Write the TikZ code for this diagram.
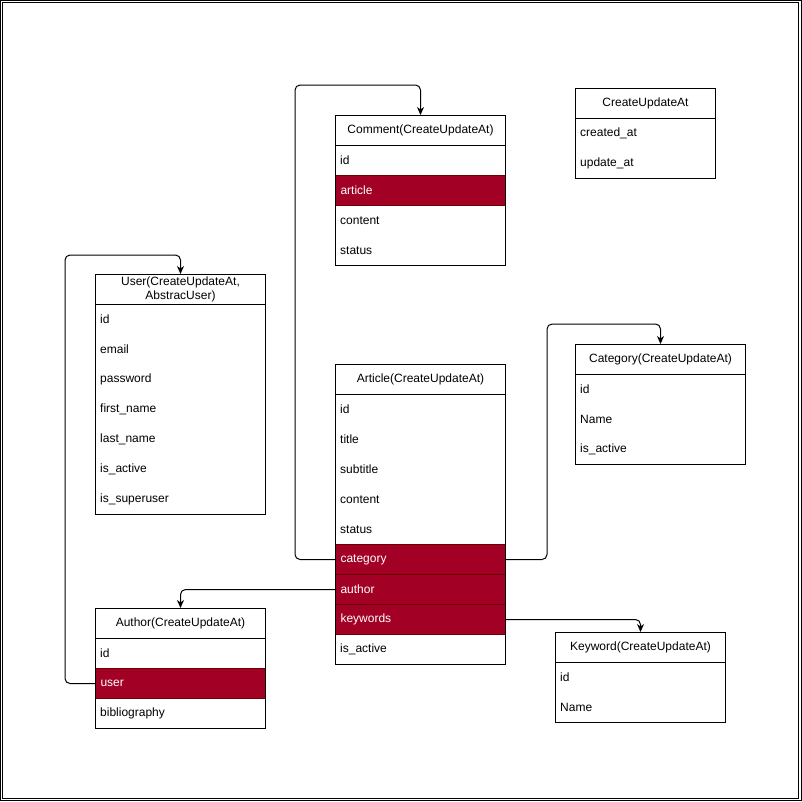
\documentclass[tikz,border=0pt]{standalone}
\usepackage{fontspec}
\setmainfont{Liberation Sans}
\usetikzlibrary{arrows.meta}
\definecolor{fkfill}{HTML}{A20025}
\definecolor{fkline}{HTML}{6F0000}
\begin{document}
\begin{tikzpicture}[x=1pt,y=-1pt,
  every node/.style={font=\fontsize{12}{14}\selectfont},
  hdr/.style={draw, line width=1pt, anchor=north west, minimum height=30pt, inner sep=0pt, text width=#1, align=center},
  fld/.style={anchor=north west, minimum height=30pt, inner xsep=5pt, inner ysep=0pt, text width=#1, align=left},
  fk/.style={fill=fkfill, draw=fkline, line width=1pt, text=white},
  link/.style={draw, line width=1pt, rounded corners=5pt, -{Stealth[length=8pt,width=7pt,inset=2.5pt]}},
  frame/.style={draw, line width=1pt}
]
\useasboundingbox (0,0) rectangle (802,801);
% outer double border
\draw[line width=1pt] (0.5,0.5) rectangle (801,800.5);
\draw[line width=1pt] (2.5,2.5) rectangle (798.5,798.5);

% Comment
\node[hdr=170pt] (com-hdr) at (335,115) {Comment(CreateUpdateAt)};
\node[fld=160pt] (com-id) at (335,145) {id};
\node[fld=160pt, fk] (com-art) at (335,175) {article};
\node[fld=160pt] (com-content) at (335,205) {content};
\node[fld=160pt] (com-status) at (335,235) {status};
\draw[frame] (com-hdr.north west) rectangle (com-status.south east);

% CreateUpdateAt
\node[hdr=140pt] (cua-hdr) at (575,88) {CreateUpdateAt};
\node[fld=130pt] (cua-created) at (575,118) {created\_at};
\node[fld=130pt] (cua-update) at (575,148) {update\_at};
\draw[frame] (cua-hdr.north west) rectangle (cua-update.south east);

% User
\node[hdr=170pt] (usr-hdr) at (95,274) {User(CreateUpdateAt,\\AbstracUser)};
\node[fld=160pt] (usr-id) at (95,304) {id};
\node[fld=160pt] (usr-email) at (95,334) {email};
\node[fld=160pt] (usr-pass) at (95,364) {password};
\node[fld=160pt] (usr-first) at (95,394) {first\_name};
\node[fld=160pt] (usr-last) at (95,424) {last\_name};
\node[fld=160pt] (usr-active) at (95,454) {is\_active};
\node[fld=160pt] (usr-super) at (95,484) {is\_superuser};
\draw[frame] (usr-hdr.north west) rectangle (usr-super.south east);

% Article
\node[hdr=170pt] (art-hdr) at (335,364) {Article(CreateUpdateAt)};
\node[fld=160pt] (art-id) at (335,394) {id};
\node[fld=160pt] (art-title) at (335,424) {title};
\node[fld=160pt] (art-sub) at (335,454) {subtitle};
\node[fld=160pt] (art-content) at (335,484) {content};
\node[fld=160pt] (art-status) at (335,514) {status};
\node[fld=160pt, fk] (art-cat) at (335,544) {category};
\node[fld=160pt, fk] (art-auth) at (335,574) {author};
\node[fld=160pt, fk] (art-kw) at (335,604) {keywords};
\node[fld=160pt] (art-active) at (335,634) {is\_active};
\draw[frame] (art-hdr.north west) rectangle (art-active.south east);

% Category
\node[hdr=170pt] (cat-hdr) at (575,344) {Category(CreateUpdateAt)};
\node[fld=160pt] (cat-id) at (575,374) {id};
\node[fld=160pt] (cat-name) at (575,404) {Name};
\node[fld=160pt] (cat-active) at (575,434) {is\_active};
\draw[frame] (cat-hdr.north west) rectangle (cat-active.south east);

% Author
\node[hdr=170pt] (aut-hdr) at (95,608) {Author(CreateUpdateAt)};
\node[fld=160pt] (aut-id) at (95,638) {id};
\node[fld=160pt, fk] (aut-user) at (95,668) {user};
\node[fld=160pt] (aut-bio) at (95,698) {bibliography};
\draw[frame] (aut-hdr.north west) rectangle (aut-bio.south east);

% Keyword
\node[hdr=170pt] (kw-hdr) at (555,632) {Keyword(CreateUpdateAt)};
\node[fld=160pt] (kw-id) at (555,662) {id};
\node[fld=160pt] (kw-name) at (555,692) {Name};
\draw[frame] (kw-hdr.north west) rectangle (kw-name.south east);

% relations
\draw[link] (art-cat.west) -- ++(-40,0) |- ([yshift=30pt]com-hdr.north) -- (com-hdr.north);
\draw[link] (art-cat.east) -- ++(41,0) |- ([yshift=20pt]cat-hdr.north) -- (cat-hdr.north);
\draw[link] (art-auth.west) -| (aut-hdr.north);
\draw[link] (art-kw.east) -| (kw-hdr.north);
\draw[link] (aut-user.west) -- ++(-30,0) |- ([yshift=19pt]usr-hdr.north) -- (usr-hdr.north);
\end{tikzpicture}
\end{document}
